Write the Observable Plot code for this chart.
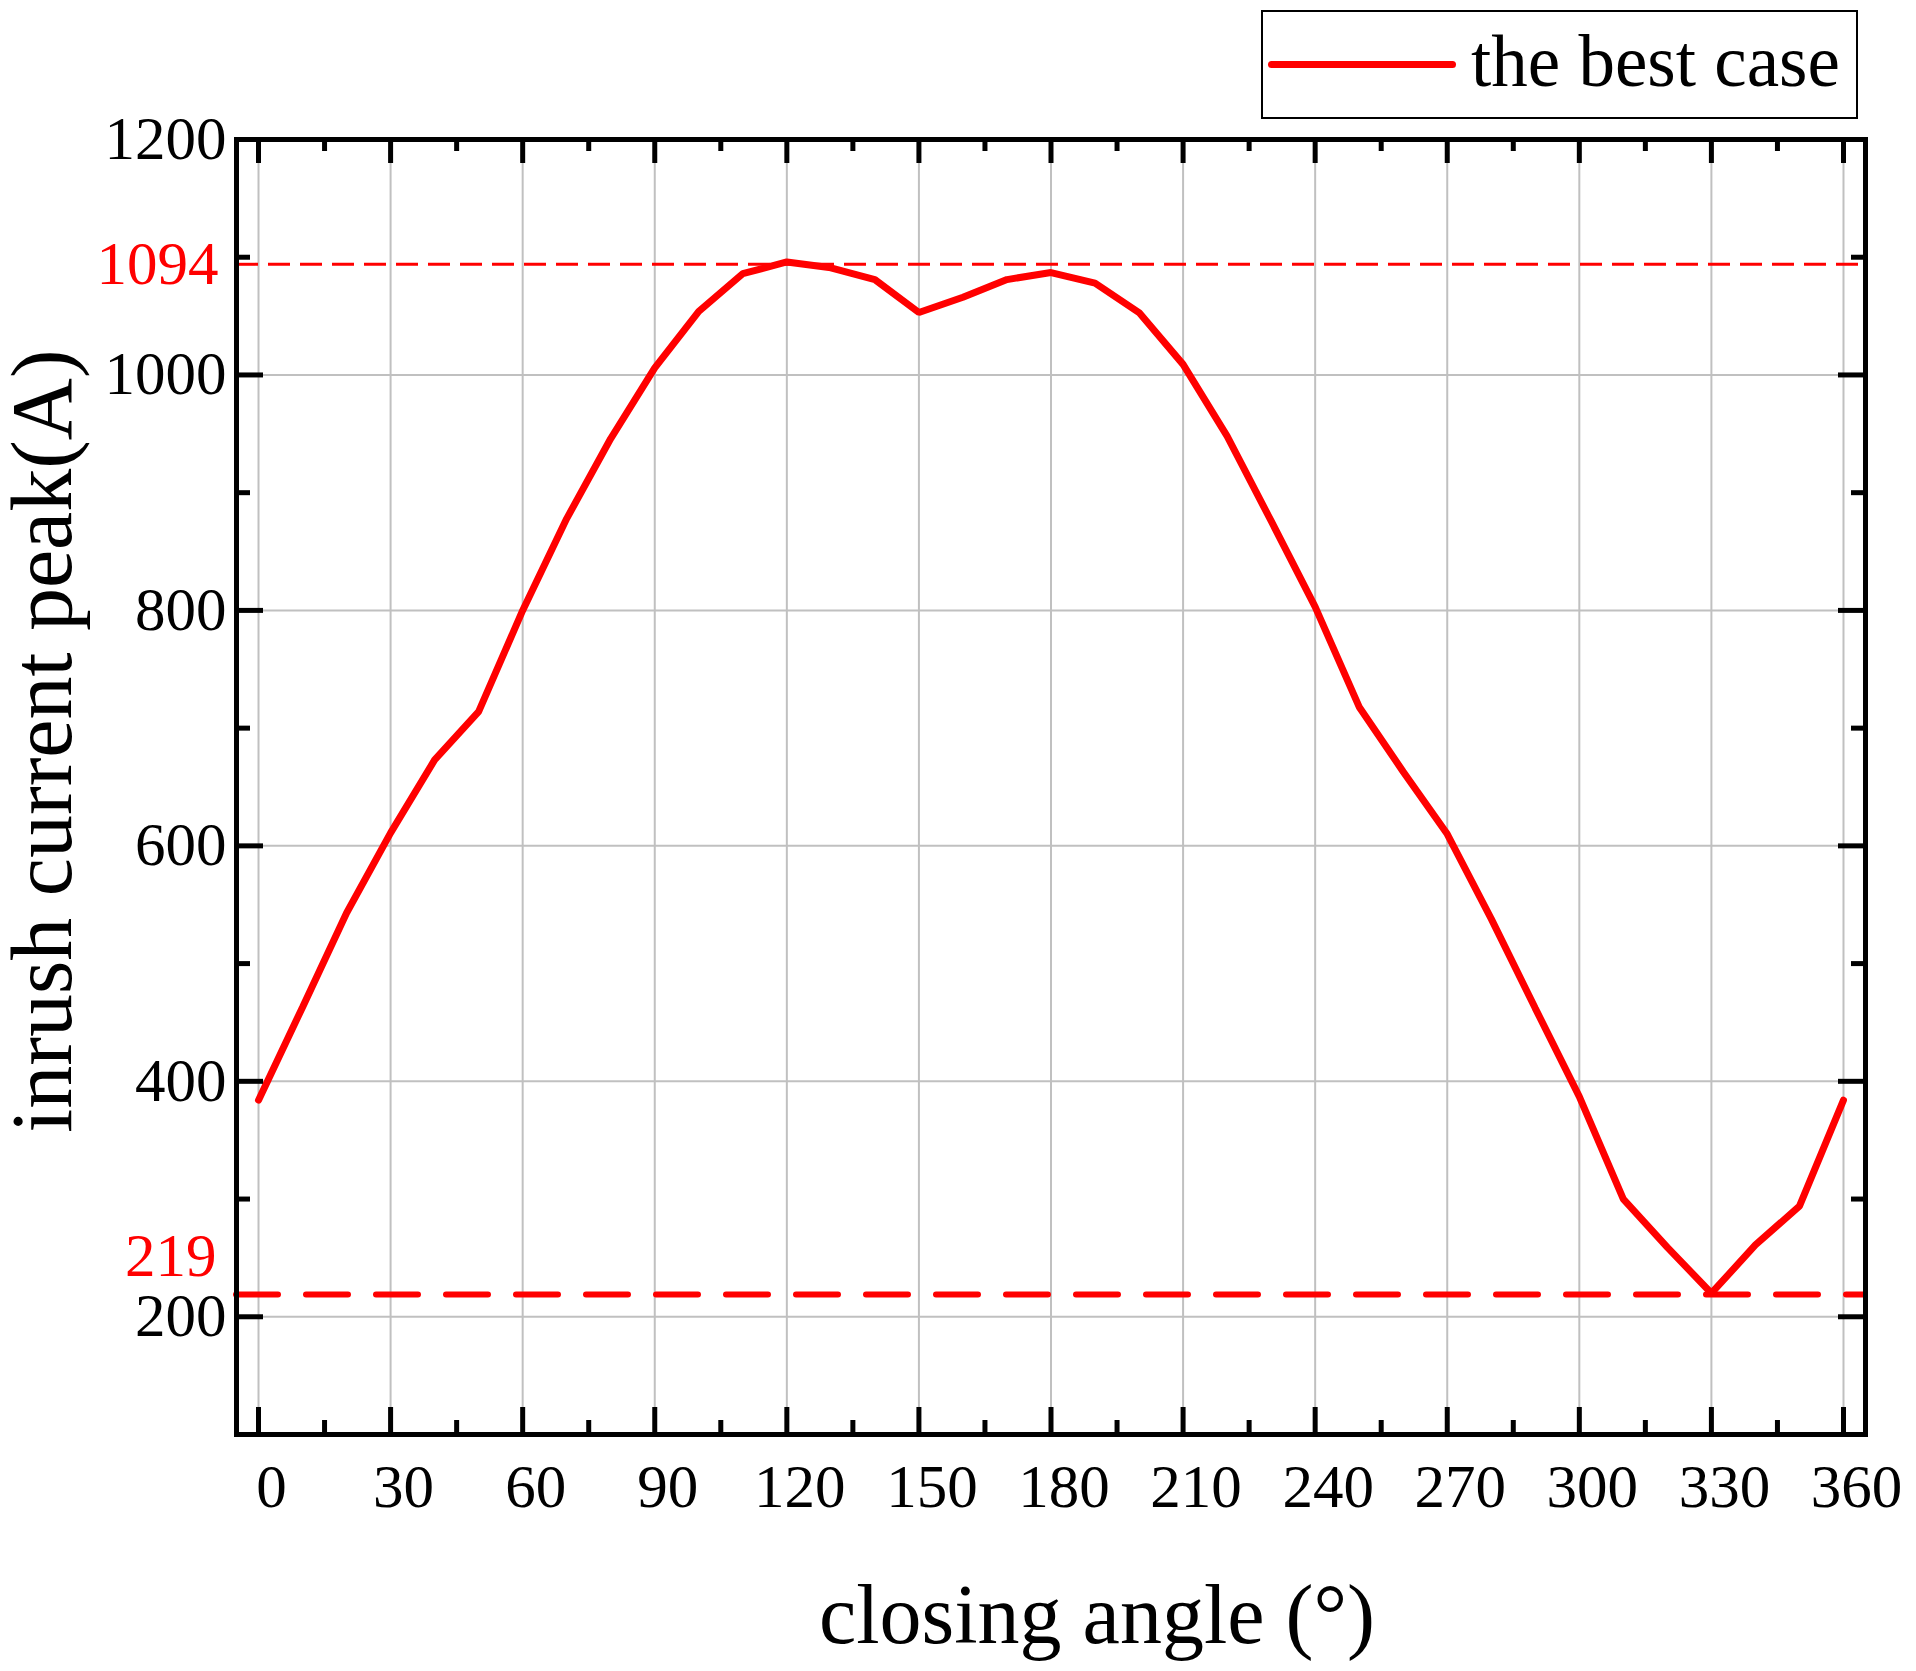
<!DOCTYPE html>
<html>
<head>
<meta charset="utf-8">
<script src="https://cdn.jsdelivr.net/npm/d3@7"></script>
<script src="https://cdn.jsdelivr.net/npm/@observablehq/plot@0.6"></script>
<style>
  html, body { margin: 0; padding: 0; background: white; }
  #wrap { position: relative; width: 1916px; height: 1671px; font-family: "Liberation Serif", serif; }
  #legend { position: absolute; left: 1261px; top: 10px; width: 597px; height: 109px; box-sizing: border-box; border: 2px solid black; background: white; }
  #legend .swatch { position: absolute; left: 5px; top: 49px; width: 188px; height: 7px; background: #ff0000; border-radius: 4px; }
  #legend .lbl { position: absolute; left: 208px; top: 12px; font-size: 73px; line-height: 76px; color: black; white-space: nowrap; }
</style>
</head>
<body>
<div id="wrap">
  <div id="chart"></div>
  <div id="legend"><div class="swatch"></div><div class="lbl" id="legendText"></div></div>
</div>
<script>
const angles = [0,10,20,30,40,50,60,70,80,90,100,110,120,130,140,150,160,170,180,190,200,210,220,230,240,250,260,270,280,290,300,310,320,330,340,350,360];
const peaks  = [384,463,543,611,673,714,800,878,946,1006,1054,1086,1096,1091,1081,1053,1066,1081,1087,1078,1053,1009,948,876,803,718,663,610,538,462,387,300,259,220,261,294,384];
const xTicks = [0,30,60,90,120,150,180,210,240,270,300,330,360];
const xMinor = [15,45,75,105,135,165,195,225,255,285,315,345];
const yTicks = [200,400,600,800,1000,1200];
const yMinor = [300,500,700,900,1100];
const yGrid = [200,400,600,800,1000];
const refValues = [1094, 219];
const refLabels = ["1094", "219"];
const seriesName = "the best case";
const xLabel = "closing angle (°)";
const yLabel = "inrush current peak(A)";

const data = angles.map((a, i) => ({angle: a, peak: peaks[i]}));

const W = 1916, H = 1671, mT = 139, mB = 237, mL = 236, mR = 51;
const innerH = H - mT - mB, innerW = W - mL - mR;
const font = "'Liberation Serif', serif";

const chart = Plot.plot({
  width: W, height: H,
  marginTop: mT, marginBottom: mB, marginLeft: mL, marginRight: mR,
  x: {domain: [-5, 365]},
  y: {domain: [100, 1200]},
  style: {fontFamily: font, background: "white", color: "black", overflow: "visible"},
  marks: [
    Plot.ruleX(xTicks, {stroke: "#c0c0c0", strokeWidth: 2}),
    Plot.ruleY(yGrid, {stroke: "#c0c0c0", strokeWidth: 2}),
    Plot.ruleY([refValues[0]], {stroke: "#ff0000", strokeWidth: 3, strokeDasharray: "22,10"}),
    Plot.ruleY([refValues[1]], {stroke: "#ff0000", strokeWidth: 6, strokeDasharray: "42,28", strokeLinecap: "round"}),
    Plot.line(data, {x: "angle", y: "peak", stroke: "#ff0000", strokeWidth: 7, strokeLinejoin: "miter"}),
    // x ticks (inward) bottom & top
    Plot.ruleX(xTicks, {stroke: "black", strokeWidth: 5, insetTop: innerH - 27}),
    Plot.ruleX(xMinor, {stroke: "black", strokeWidth: 5, insetTop: innerH - 14}),
    Plot.ruleX(xTicks, {stroke: "black", strokeWidth: 5, insetBottom: innerH - 24}),
    Plot.ruleX(xMinor, {stroke: "black", strokeWidth: 5, insetBottom: innerH - 12}),
    // y ticks (inward) left & right
    Plot.ruleY(yTicks, {stroke: "black", strokeWidth: 5, insetRight: innerW - 27}),
    Plot.ruleY(yMinor, {stroke: "black", strokeWidth: 5, insetRight: innerW - 14}),
    Plot.ruleY(yTicks, {stroke: "black", strokeWidth: 5, insetLeft: innerW - 27}),
    Plot.ruleY(yMinor, {stroke: "black", strokeWidth: 5, insetLeft: innerW - 14}),
    Plot.frame({stroke: "black", strokeWidth: 5}),
    Plot.axisX({ticks: xTicks, tickSize: 0, tickPadding: 29, dx: 13, fontSize: 61, fontFamily: font, label: null, tickFormat: d => String(d)}),
    Plot.axisY({ticks: yTicks, tickSize: 0, tickPadding: 10, fontSize: 61, fontFamily: font, label: null, tickFormat: d => String(d)}),
    Plot.text([0], {y: () => refValues[0], text: () => refLabels[0], frameAnchor: "left", textAnchor: "end", dx: -18, fill: "#ff0000", fontSize: 61, fontFamily: font}),
    Plot.text([0], {y: () => refValues[1], text: () => refLabels[1], frameAnchor: "left", textAnchor: "end", dx: -20, dy: -38, fill: "#ff0000", fontSize: 61, fontFamily: font}),
    Plot.text([yLabel], {text: d => d, frameAnchor: "left", textAnchor: "middle", rotate: -90, dx: 43 - mL, dy: -46, fontSize: 86, fontFamily: font, fill: "black"}),
    Plot.text([xLabel], {text: d => d, frameAnchor: "bottom", textAnchor: "middle", dx: 46, dy: 208, fontSize: 84, fontFamily: font, fill: "black"})
  ]
});
document.getElementById("chart").appendChild(chart);
document.getElementById("legendText").textContent = seriesName;
</script>
</body>
</html>
